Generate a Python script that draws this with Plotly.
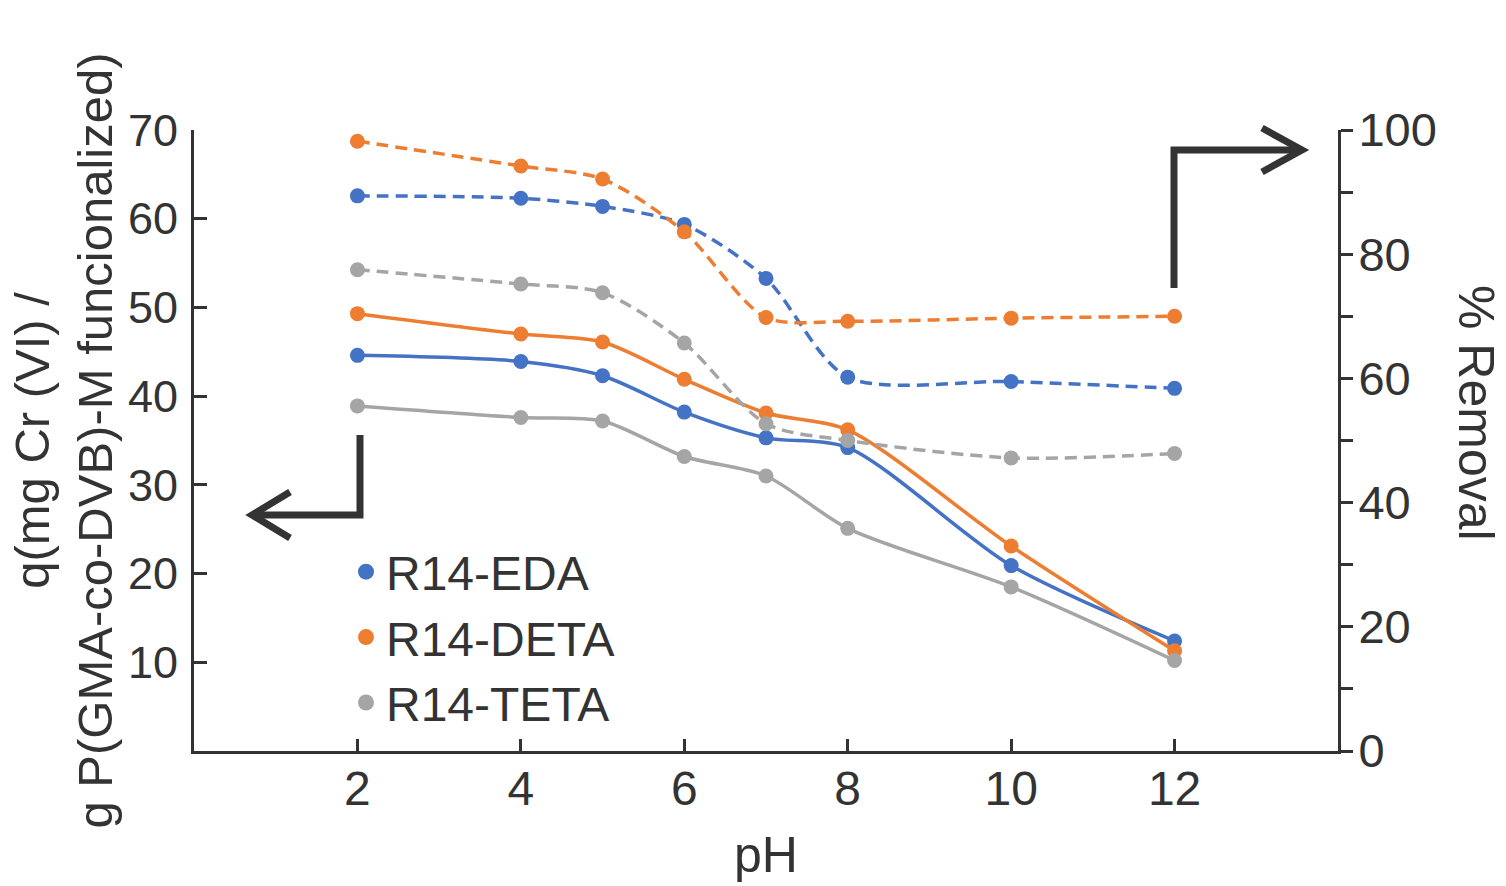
import plotly.graph_objects as go

# ---- data ----
ph = [2, 4, 5, 6, 7, 8, 10, 12]

q_eda = [44.6, 43.9, 42.3, 38.2, 35.3, 34.2, 20.9, 12.4]
q_deta = [49.3, 47.0, 46.1, 41.9, 38.1, 36.2, 23.1, 11.3]
q_teta = [38.9, 37.6, 37.2, 33.2, 31.0, 25.1, 18.5, 10.2]

rem_eda = [89.4, 89.0, 87.7, 84.8, 76.1, 60.2, 59.5, 58.4]
rem_deta = [98.2, 94.2, 92.1, 83.6, 69.8, 69.2, 69.7, 70.0]
rem_teta = [77.5, 75.2, 73.8, 65.7, 52.7, 50.0, 47.2, 47.9]

names = ["R14-EDA", "R14-DETA", "R14-TETA"]
colors = ["#4472C4", "#ED7D31", "#A5A5A5"]

left_ticks = [10, 20, 30, 40, 50, 60, 70]
right_ticks = [0, 10, 20, 30, 40, 50, 60, 70, 80, 90, 100]
right_labels = ["0", "", "20", "", "40", "", "60", "", "80", "", "100"]
x_ticks = [2, 4, 6, 8, 10, 12]

FONT = "Liberation Sans, Arial, sans-serif"
TXT = "#333333"

# plot area in pixels
L, R, T, B = 194, 1338, 130, 751
W, H = 1506, 886


def px(x, y):
    return (x - L) / (R - L), (B - y) / (B - T)


fig = go.Figure()

q_series = [q_eda, q_deta, q_teta]
r_series = [rem_eda, rem_deta, rem_teta]

for name, c, q, r in zip(names, colors, q_series, r_series):
    fig.add_trace(go.Scatter(
        x=ph, y=r, yaxis="y2", mode="lines+markers", showlegend=False,
        line=dict(color=c, width=3.5, dash="12px,7px", shape="spline", smoothing=0.8),
        marker=dict(color=c, size=15), name=name + " % removal"))
for name, c, q, r in zip(names, colors, q_series, r_series):
    fig.add_trace(go.Scatter(
        x=ph, y=q, yaxis="y", mode="lines+markers", showlegend=False,
        line=dict(color=c, width=3.5, shape="spline", smoothing=0.8),
        marker=dict(color=c, size=15), name=name + " q"))
# legend entries (marker only)
for name, c in zip(names, colors):
    fig.add_trace(go.Scatter(
        x=[None], y=[None], mode="markers", name=name, legendgroup=name,
        marker=dict(color=c, size=18)))


def path_from(points):
    s = ""
    for i, (x, y) in enumerate(points):
        xx, yy = px(x, y)
        s += ("M" if i == 0 else "L") + f" {xx:.5f} {yy:.5f} "
    return s


arrow_line = dict(color="#333333", width=7)
shapes = [
    dict(type="path", xref="paper", yref="paper",
         path=path_from([(1174, 288), (1174, 150), (1300, 150)]), line=arrow_line),
    dict(type="path", xref="paper", yref="paper",
         path=path_from([(1262, 128), (1302, 150), (1262, 172)]), line=arrow_line),
    dict(type="path", xref="paper", yref="paper",
         path=path_from([(360, 435), (360, 515), (254, 515)]), line=arrow_line),
    dict(type="path", xref="paper", yref="paper",
         path=path_from([(290, 492), (252, 515), (290, 538)]), line=arrow_line),
]

ax, ay = px(1476, 413)

fig.update_layout(
    width=W, height=H,
    margin=dict(l=L, r=W - R, t=T, b=H - B),
    paper_bgcolor="white", plot_bgcolor="white",
    font=dict(family=FONT, size=46, color=TXT),
    shapes=shapes,
    xaxis=dict(range=[0, 14], tickvals=x_ticks, ticks="inside", ticklen=12,
               tickwidth=3, tickcolor=TXT, showline=True, linecolor=TXT, linewidth=3,
               showgrid=False, zeroline=False, ticklabelstandoff=-7, automargin=False,
               tickfont=dict(size=48),
               title=dict(text="pH", standoff=24, font=dict(size=50))),
    yaxis=dict(range=[0, 70], tickvals=left_ticks, ticks="inside", ticklen=13,
               tickwidth=3, tickcolor=TXT, showline=True, linecolor=TXT, linewidth=3,
               showgrid=False, zeroline=False, ticklabelstandoff=4, automargin=False,
               tickfont=dict(size=45),
               title=dict(text="q(mg Cr (VI) /<br>g P(GMA-co-DVB)-M funcionalized)",
                          standoff=0, font=dict(size=49))),
    yaxis2=dict(range=[0, 100], overlaying="y", side="right", tickvals=right_ticks,
                ticktext=right_labels, ticks="outside", ticklen=12, tickwidth=3,
                tickcolor=TXT, showline=True, linecolor=TXT, linewidth=3,
                showgrid=False, zeroline=False, ticklabelstandoff=-4, automargin=False,
                tickfont=dict(size=47)),
    legend=dict(x=px(346, 0)[0], y=px(0, 534)[1], xanchor="left", yanchor="top",
                bgcolor="rgba(0,0,0,0)", font=dict(size=48, color=TXT),
                traceorder="grouped", tracegroupgap=0, itemwidth=30),
    annotations=[dict(text="% Removal", x=ax, y=ay, xref="paper", yref="paper",
                      xanchor="center", yanchor="middle",
                      showarrow=False, textangle=90, font=dict(size=50, color=TXT))],
)

fig.write_html("out.html")
